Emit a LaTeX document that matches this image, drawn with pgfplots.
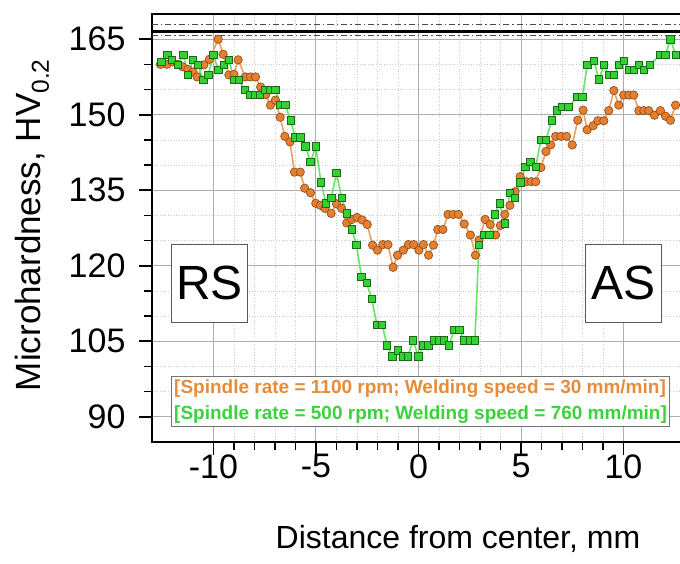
\documentclass[border=0pt]{standalone}
\usepackage{fontspec}
\setmainfont{Liberation Sans}
\usepackage{pgfplots}
\usepackage{pgfplotstable}
\pgfplotsset{compat=1.18}
\usetikzlibrary{calc}
\definecolor{orfill}{RGB}{228,128,48}
\definecolor{ordraw}{RGB}{150,80,30}
\definecolor{orline}{RGB}{238,160,95}
\definecolor{grfill}{RGB}{50,210,50}
\definecolor{grdraw}{RGB}{25,105,25}
\definecolor{grline}{RGB}{105,228,105}
\definecolor{ortext}{RGB}{230,140,60}
\definecolor{grtext}{RGB}{60,210,60}
\pgfplotstableread{
x y
-12.59 160
-12.27 160
-12.0 160.5
-11.75 160
-11.5 159.5
-11.25 159
-11.0 158.5
-10.8 157.5
-10.47 159.9
-10.2 161
-9.77 165
-9.53 162
-9.25 157.9
-9.0 158
-8.8 160.9
-8.45 157.5
-8.2 157.5
-7.95 157.5
-7.7 155.5
-7.45 154
-7.22 151.9
-6.98 152.9
-6.75 149.5
-6.52 145.7
-6.27 144.6
-6.05 138.6
-5.77 138.6
-5.55 135.4
-5.27 134.5
-5.01 132.4
-4.78 132
-4.56 131.4
-4.26 130.4
-4.0 132.3
-3.75 131.4
-3.5 128.5
-3.25 129.2
-3.0 129.6
-2.75 129.1
-2.5 128.2
-2.24 124.1
-2.0 123.1
-1.74 124.2
-1.49 124.2
-1.24 119.7
-1.02 122.1
-0.74 123.1
-0.49 124.2
-0.23 124.2
0.02 123.1
0.24 124.2
0.49 122.1
0.73 124.1
0.94 127.2
1.19 127.2
1.44 130.2
1.69 130.2
1.95 130.2
2.23 128.3
2.53 126.1
2.78 122.1
2.95 125.1
3.25 129.2
3.5 128.2
3.76 126.1
4.0 128
4.21 130.2
4.46 132
4.71 134.7
4.96 137.7
5.26 136.7
5.5 136.7
5.72 136.7
5.97 139.5
6.22 142.7
6.45 144
6.69 145.7
6.95 145.7
7.22 145.7
7.5 144
7.77 148.9
8.03 150.9
8.23 147
8.52 147.8
8.75 148.8
9.04 148.8
9.28 150.8
9.53 154.8
9.77 151.9
10.01 153.9
10.26 153.9
10.5 153.9
10.75 150.8
10.99 150.8
11.23 150.8
11.51 149.9
11.8 150.8
12.05 149.7
12.29 148.9
12.54 151.9
}\orange
\pgfplotstableread{
x y
-12.55 160.5
-12.26 161.9
-12.02 160.9
-11.74 159.9
-11.48 161.9
-11.24 157.9
-11.0 160.9
-10.77 159.9
-10.5 156.9
-10.26 157.9
-10.01 161.9
-9.77 158.9
-9.5 159.9
-9.25 160.9
-9.0 156.9
-8.77 156.9
-8.47 154.9
-8.23 153.9
-7.98 153.9
-7.74 153.9
-7.5 154.9
-7.22 154.9
-6.98 154.9
-6.73 151.9
-6.49 151.9
-6.24 148.9
-6.02 145.5
-5.77 145.5
-5.51 143.7
-5.27 140.6
-5.01 143.7
-4.76 136.6
-4.51 132.4
-4.26 133.5
-4.0 138.4
-3.75 133.5
-3.5 130.4
-3.25 127.2
-3.03 124.2
-2.78 117.8
-2.53 116.6
-2.28 113.4
-2.03 108.3
-1.78 108.3
-1.53 104.2
-1.27 102
-1.02 103.2
-0.77 102
-0.52 102
-0.27 105.2
-0.01 102
0.23 104.2
0.49 104.2
0.74 105.2
0.99 105.2
1.24 105.2
1.49 104.2
1.74 107.3
1.99 107.3
2.24 105.2
2.5 105.2
2.75 105.2
2.95 124.1
3.2 126.1
3.45 126.1
3.71 130.2
3.96 132.4
4.21 128.4
4.46 134.5
4.71 133.5
4.96 136.6
5.21 139.6
5.46 140.6
5.72 139.6
5.97 145
6.22 145
6.5 148.9
6.75 150.9
7.0 151.5
7.3 151.5
7.75 153.5
8.0 153.5
8.23 159.9
8.55 160.7
8.8 157
9.04 159.9
9.28 157.9
9.53 157.9
9.77 159.9
10.01 160.7
10.26 158.9
10.5 158.9
10.75 159.9
10.99 158.9
11.28 159.9
11.8 161.9
12.05 161.9
12.29 165
12.54 161.9
}\green
\begin{document}
\begin{tikzpicture}
\begin{axis}[
  scale only axis,
  width=533pt, height=428pt,
  xmin=-13, xmax=13, ymin=85, ymax=170,
  xtick={-10,-5,0,5,10}, ytick={90,105,120,135,150,165},
  minor x tick num=4, minor y tick num=2,
  tick pos=left, tick align=outside,
  major tick length=13pt, minor tick length=8pt,
  every tick/.style={black, line width=1.6pt},
  axis line style={black, line width=2.8pt},
  grid=both,
  major grid style={draw=black!32, line width=1pt},
  minor grid style={draw=black!20, line width=0.7pt, dotted},
  /pgf/number format/assume math mode=true,
  ticklabel style={font=\fontsize{34}{38}\selectfont},
  yticklabel style={xshift=-10pt},
  xticklabel style={yshift=4pt},
  xlabel={Distance from center, mm},
  ylabel={Microhardness, HV\textsubscript{0.2}},
  xlabel style={font=\fontsize{32}{36}\selectfont, at={(rel axis cs:0,0)}, anchor=center, xshift=306pt, yshift=-97pt},
  ylabel style={font=\fontsize{35}{40}\selectfont, at={(rel axis cs:0,0.5)}, anchor=center, yshift=120pt, xshift=3pt},
  clip=false,
]
\coordinate (A) at (rel axis cs:0,0);
\addplot[black, line width=2.8pt, forget plot] coordinates {(-13,166.6) (13,166.6)};
\addplot[black!70, line width=1.1pt, dash pattern=on 6pt off 3pt on 1.5pt off 3pt, forget plot] coordinates {(-13,168.0) (13,168.0)};
\addplot[black!70, line width=1.1pt, dash pattern=on 6pt off 3pt on 1.5pt off 3pt, forget plot] coordinates {(-13,165.8) (13,165.8)};
\addplot[orline, line width=1.6pt, mark=*, mark size=4.2pt, mark options={fill=orfill, draw=ordraw, line width=0.7pt}] table[x=x,y=y] {\orange};
\addplot[grline, line width=1.6pt, mark=square*, mark size=3.7pt, mark options={fill=grfill, draw=grdraw, line width=0.7pt}] table[x=x,y=y] {\green};
\node[draw=black!65, line width=1.2pt, fill=white, minimum width=76pt, minimum height=78pt, inner sep=0pt, font=\fontsize{48}{52}\selectfont] at (axis cs:-10.2,116.5) {RS};
\node[draw=black!65, line width=1.2pt, fill=white, minimum width=76pt, minimum height=78pt, inner sep=0pt, font=\fontsize{48}{52}\selectfont] at (axis cs:10,116.5) {AS};
\node[draw=black!55, line width=1pt, fill=white, inner xsep=3pt, inner ysep=3pt, align=left, font=\bfseries\fontsize{19}{26}\selectfont] at (axis cs:0.1,93) {\textcolor{ortext}{[Spindle rate = 1100 rpm; Welding speed = 30 mm/min]}\\\textcolor{grtext}{[Spindle rate = 500 rpm; Welding speed = 760 mm/min]}};
\end{axis}
\pgfresetboundingbox
\path[use as bounding box] ($(A)+(-152pt,-122pt)$) rectangle ($(A)+(528pt,442pt)$);
\end{tikzpicture}
\end{document}
